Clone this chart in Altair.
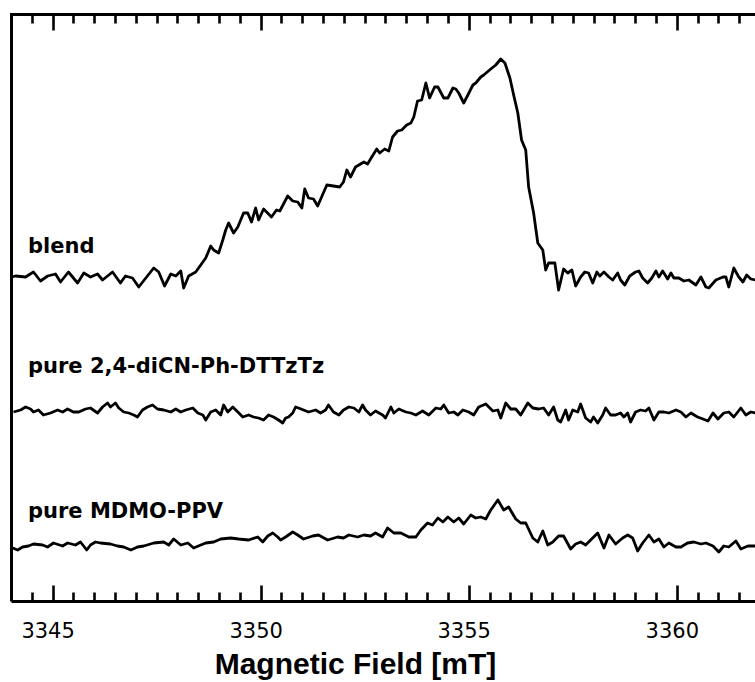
import altair as alt
import pandas as pd

# ---------------- data ----------------
blend_field = [3344.01, 3344.11, 3344.35, 3344.54, 3344.71, 3344.88, 3345.07, 3345.19, 3345.38, 3345.60,
               3345.75, 3345.91, 3346.08, 3346.20, 3346.44, 3346.63, 3346.75, 3346.92, 3347.07, 3347.24,
               3347.43, 3347.55, 3347.69, 3347.84, 3347.96, 3348.08, 3348.15, 3348.27, 3348.44, 3348.56,
               3348.68, 3348.80, 3348.87, 3348.99, 3349.09, 3349.16, 3349.23, 3349.35, 3349.45, 3349.59,
               3349.69, 3349.78, 3349.88, 3349.95, 3350.07, 3350.26, 3350.38, 3350.46, 3350.65, 3350.77,
               3350.89, 3350.99, 3351.06, 3351.15, 3351.27, 3351.37, 3351.59, 3351.75, 3351.90, 3351.99,
               3352.07, 3352.16, 3352.28, 3352.48, 3352.57, 3352.67, 3352.79, 3352.86, 3352.98, 3353.08,
               3353.17, 3353.29, 3353.39, 3353.51, 3353.61, 3353.68, 3353.77, 3353.87, 3353.97, 3354.06,
               3354.18, 3354.26, 3354.40, 3354.50, 3354.62, 3354.69, 3354.76, 3354.88, 3354.98, 3355.10,
               3355.17, 3355.29, 3355.36, 3355.53, 3355.65, 3355.77, 3355.87, 3355.99, 3356.08, 3356.18,
               3356.27, 3356.37, 3356.44, 3356.56, 3356.66, 3356.78, 3356.85, 3356.92, 3357.07, 3357.16,
               3357.28, 3357.38, 3357.48, 3357.57, 3357.69, 3357.79, 3357.88, 3357.98, 3358.08, 3358.15,
               3358.25, 3358.37, 3358.46, 3358.58, 3358.65, 3358.75, 3358.87, 3359.01, 3359.09, 3359.18,
               3359.30, 3359.40, 3359.50, 3359.57, 3359.66, 3359.78, 3359.86, 3359.93, 3360.05, 3360.17,
               3360.29, 3360.46, 3360.58, 3360.70, 3360.77, 3360.94, 3361.11, 3361.18, 3361.25, 3361.37,
               3361.49, 3361.59, 3361.68, 3361.78, 3361.90]
blend_signal = [0, 1, 0, 5, -4, 1, 3, -5, 5, -6,
                4, 0, 3, -3, 5, -6, 1, -1, -10, -1,
                9, 5, -9, 3, 1, 6, -11, 1, 5, 12,
                19, 31, 27, 24, 37, 47, 54, 44, 50, 64,
                64, 55, 69, 57, 68, 60, 67, 66, 81, 76,
                75, 69, 88, 79, 78, 71, 92, 91, 90, 95,
                107, 100, 110, 115, 113, 120, 128, 124, 128, 126,
                140, 146, 147, 152, 154, 160, 176, 177, 194, 179,
                190, 190, 179, 179, 189, 188, 184, 174, 182, 192,
                194, 200, 202, 208, 212, 218, 214, 199, 182, 164,
                137, 127, 90, 64, 34, 27, 7, 14, 14, -13,
                8, 4, 7, -9, 0, 5, 4, -6, 5, 1,
                5, 0, -3, 4, -3, -8, 1, 5, 6, -1,
                -6, -1, 6, 0, 6, -2, 4, -1, -1, -4,
                -3, -8, 0, -10, -11, -3, 0, 0, -10, 9,
                0, -5, 2, -2, -3]

dicn_field = [3344.06, 3344.23, 3344.35, 3344.47, 3344.54, 3344.66, 3344.78, 3344.95, 3345.12, 3345.24,
              3345.36, 3345.50, 3345.63, 3345.79, 3345.91, 3346.08, 3346.20, 3346.32, 3346.39, 3346.51,
              3346.59, 3346.71, 3346.83, 3346.95, 3347.04, 3347.16, 3347.28, 3347.40, 3347.52, 3347.67,
              3347.84, 3347.96, 3348.08, 3348.20, 3348.37, 3348.49, 3348.61, 3348.68, 3348.80, 3348.92,
              3349.04, 3349.11, 3349.21, 3349.33, 3349.45, 3349.57, 3349.71, 3349.83, 3349.95, 3350.07,
              3350.19, 3350.31, 3350.43, 3350.53, 3350.60, 3350.67, 3350.77, 3350.84, 3350.91, 3351.03,
              3351.15, 3351.32, 3351.44, 3351.56, 3351.63, 3351.75, 3351.88, 3351.99, 3352.12, 3352.24,
              3352.36, 3352.45, 3352.52, 3352.64, 3352.76, 3352.93, 3353.00, 3353.13, 3353.20, 3353.32,
              3353.49, 3353.61, 3353.73, 3353.89, 3354.04, 3354.21, 3354.33, 3354.40, 3354.52, 3354.64,
              3354.74, 3354.86, 3355.00, 3355.12, 3355.24, 3355.41, 3355.58, 3355.70, 3355.77, 3355.89,
              3356.01, 3356.13, 3356.25, 3356.42, 3356.54, 3356.68, 3356.80, 3356.92, 3357.04, 3357.14,
              3357.21, 3357.33, 3357.40, 3357.50, 3357.62, 3357.69, 3357.81, 3357.93, 3358.00, 3358.10,
              3358.22, 3358.29, 3358.41, 3358.53, 3358.65, 3358.73, 3358.82, 3358.89, 3359.01, 3359.13,
              3359.25, 3359.33, 3359.45, 3359.57, 3359.69, 3359.81, 3359.98, 3360.10, 3360.22, 3360.34,
              3360.50, 3360.63, 3360.75, 3360.87, 3360.99, 3361.13, 3361.25, 3361.37, 3361.54, 3361.66,
              3361.78, 3361.90]
dicn_signal = [-1, 1, 4, 2, -1, 1, -4, -2, 1, -1,
               2, -1, -1, 2, 3, -2, 4, 8, 4, 8,
               3, -1, -2, -4, -6, 1, 4, 6, 2, 1,
               -1, 2, -1, 1, 3, -2, -4, -9, -1, 1,
               -4, 6, -1, 4, -1, -6, -4, -6, -7, -9,
               -4, -6, -9, -12, -7, -6, -2, 4, 3, 1,
               -1, 1, -2, 1, 6, -1, -4, 1, 4, 3,
               -1, 6, 1, -4, 0, -4, -7, 4, -2, 2,
               -1, -2, -4, 0, -4, 3, 2, 6, -2, -1,
               -4, 1, -1, -4, 4, 7, 0, 1, -7, 8,
               2, 2, -4, 8, 3, 2, 3, -4, 4, -9,
               -11, 1, -9, 1, -1, 7, -7, -11, -6, -12,
               -4, 3, -4, -4, -2, -6, -2, -11, -1, 1,
               0, 3, -9, -1, -1, -2, 1, -1, -6, -2,
               -6, -8, -10, -2, -8, -2, -1, -6, 3, -4,
               -1, -2]

mdmo_field = [3344.04, 3344.16, 3344.28, 3344.42, 3344.54, 3344.76, 3344.88, 3345.02, 3345.24, 3345.36,
              3345.55, 3345.67, 3345.82, 3345.91, 3346.03, 3346.15, 3346.39, 3346.56, 3346.71, 3346.88,
              3347.04, 3347.19, 3347.43, 3347.67, 3347.79, 3347.91, 3348.08, 3348.25, 3348.39, 3348.56,
              3348.68, 3348.87, 3349.04, 3349.28, 3349.47, 3349.71, 3349.93, 3350.05, 3350.17, 3350.29,
              3350.41, 3350.48, 3350.60, 3350.77, 3350.89, 3351.03, 3351.25, 3351.39, 3351.61, 3351.85,
              3351.99, 3352.12, 3352.33, 3352.48, 3352.64, 3352.76, 3352.93, 3353.05, 3353.20, 3353.37,
              3353.56, 3353.73, 3353.85, 3354.01, 3354.13, 3354.26, 3354.38, 3354.50, 3354.64, 3354.76,
              3354.88, 3355.05, 3355.17, 3355.29, 3355.41, 3355.53, 3355.70, 3355.84, 3355.96, 3356.13,
              3356.25, 3356.37, 3356.54, 3356.66, 3356.78, 3356.90, 3357.02, 3357.16, 3357.28, 3357.45,
              3357.57, 3357.69, 3357.81, 3357.93, 3358.10, 3358.25, 3358.37, 3358.53, 3358.70, 3358.82,
              3358.94, 3359.06, 3359.18, 3359.33, 3359.45, 3359.57, 3359.69, 3359.81, 3359.98, 3360.10,
              3360.26, 3360.41, 3360.58, 3360.70, 3360.87, 3361.01, 3361.13, 3361.25, 3361.42, 3361.54,
              3361.71, 3361.90]
mdmo_signal = [-3, -5, -2, -1, 1, 0, -2, 2, -1, 2,
               0, 3, -5, 0, 3, 2, 1, -1, -2, -5,
               -2, -1, 2, 3, 0, 6, 0, 2, -3, 0,
               2, 3, 6, 7, 6, 5, 8, 3, 9, 12,
               8, 5, 8, 13, 10, 6, 9, 10, 5, 8,
               7, 10, 8, 10, 9, 12, 8, 17, 12, 12,
               8, 8, 15, 22, 20, 27, 23, 28, 23, 27,
               21, 30, 27, 28, 26, 35, 45, 35, 38, 26,
               22, 22, 7, 3, 14, 0, 3, 9, 9, -4,
               1, 3, 0, 5, 12, -3, 10, 1, 7, 10,
               7, -6, 2, 10, 3, 6, -2, 2, -2, -2,
               2, 3, 1, 2, -1, -7, -1, -2, 4, -4,
               -1, -1]

series_names = ["blend", "pure 2,4-diCN-Ph-DTTzTz", "pure MDMO-PPV"]
series_offsets = [324, 190, 56]   # vertical stacking offsets (a.u.)

major_ticks = [3345, 3350, 3355, 3360]
minor_ticks = [3344.5, 3345.5, 3346.0, 3346.5, 3347.0, 3347.5, 3348.0, 3348.5, 3349.0, 3349.5,
               3350.5, 3351.0, 3351.5, 3352.0, 3352.5, 3353.0, 3353.5, 3354.0, 3354.5,
               3355.5, 3356.0, 3356.5, 3357.0, 3357.5, 3358.0, 3358.5, 3359.0, 3359.5,
               3360.5, 3361.0, 3361.5]

# ---------------- geometry / styles ----------------
W, H = 744, 587
X0, X1 = 3344.0, 3361.88
MAJ, MIN = 16, 9

# ---------------- tables ----------------
frames = []
for name, off, fx, sy in zip(series_names, series_offsets,
                             [blend_field, dicn_field, mdmo_field],
                             [blend_signal, dicn_signal, mdmo_signal]):
    frames.append(pd.DataFrame({"field": fx, "v": [off + s for s in sy], "series": name}))
df = pd.concat(frames, ignore_index=True)
major_df = pd.DataFrame({"field": major_ticks})
minor_df = pd.DataFrame({"field": minor_ticks})
one_df = pd.DataFrame({"k": [0]})

xs = alt.Scale(domain=[X0, X1], nice=False, zero=False)
ys = alt.Scale(domain=[0, H], nice=False, zero=False)

xaxis = alt.Axis(orient="bottom", values=major_ticks, format="d", ticks=False, tickSize=0, grid=False,
                 labelFont="DejaVu Sans", labelFontSize=21, labelColor="black",
                 labelPadding=36, labelBaseline="alphabetic", labelOffset=-5,
                 labelFlush=False, labelOverlap=False,
                 domainWidth=3, domainColor="black",
                 title="Magnetic Field [mT]", titleFont="Liberation Sans", titleFontSize=30,
                 titleFontWeight="bold", titleColor="black", titleX=344, titleY=72,
                 titleBaseline="alphabetic", titleAlign="center")
yaxis = alt.Axis(labels=False, ticks=False, tickSize=0, grid=False, title=None,
                 domainWidth=3, domainColor="black")

lines = alt.Chart(df).mark_line(color="black", strokeWidth=2.8, strokeJoin="round").encode(
    x=alt.X("field:Q", scale=xs, axis=xaxis),
    y=alt.Y("v:Q", scale=ys, axis=yaxis),
    detail="series:N",
)

# inward tick marks drawn as extra axes shifted into the plot (negative offset, outward ticks)
def tick_axis_layer(data, orient, values, length):
    ax = alt.Axis(orient=orient, offset=-length, values=values, ticks=True, tickSize=length,
                  tickWidth=2.6, tickColor="black", labels=False, domain=False, grid=False,
                  title=None)
    return alt.Chart(data).mark_point(opacity=0, size=1).encode(
        x=alt.X("field:Q", scale=xs, axis=ax))

top_major = tick_axis_layer(major_df, "top", major_ticks, MAJ)
top_minor = tick_axis_layer(minor_df, "top", minor_ticks, MIN)
bot_major = tick_axis_layer(major_df, "bottom", major_ticks, MAJ)
bot_minor = tick_axis_layer(minor_df, "bottom", minor_ticks, MIN)

frame_axis = alt.Axis(orient="top", offset=0, values=major_ticks, ticks=False, tickSize=0,
                      labels=False, grid=False, title=None, domain=True,
                      domainWidth=3, domainColor="black", domainCap="square")
top_frame = alt.Chart(major_df).mark_point(opacity=0, size=1).encode(
    x=alt.X("field:Q", scale=xs, axis=frame_axis))

label_pos = [239, 359, 504]
texts = []
for name, yp in zip(series_names, label_pos):
    texts.append(alt.Chart(one_df).mark_text(
        text=name, font="DejaVu Sans", fontSize=21, fontWeight="bold", color="black",
        align="left", baseline="alphabetic").encode(x=alt.value(17), y=alt.value(yp)))

chart = alt.layer(lines, top_frame, top_major, top_minor, bot_major, bot_minor, *texts).resolve_axis(
    x="independent"
).properties(
    width=W, height=H,
    autosize=alt.AutoSizeParams(type="none"),
    padding={"left": 11, "top": 14, "right": 0, "bottom": 81},
).configure_view(stroke=None).configure(background="white")

chart.save("out.html", embed_options={"renderer": "svg", "actions": False})
